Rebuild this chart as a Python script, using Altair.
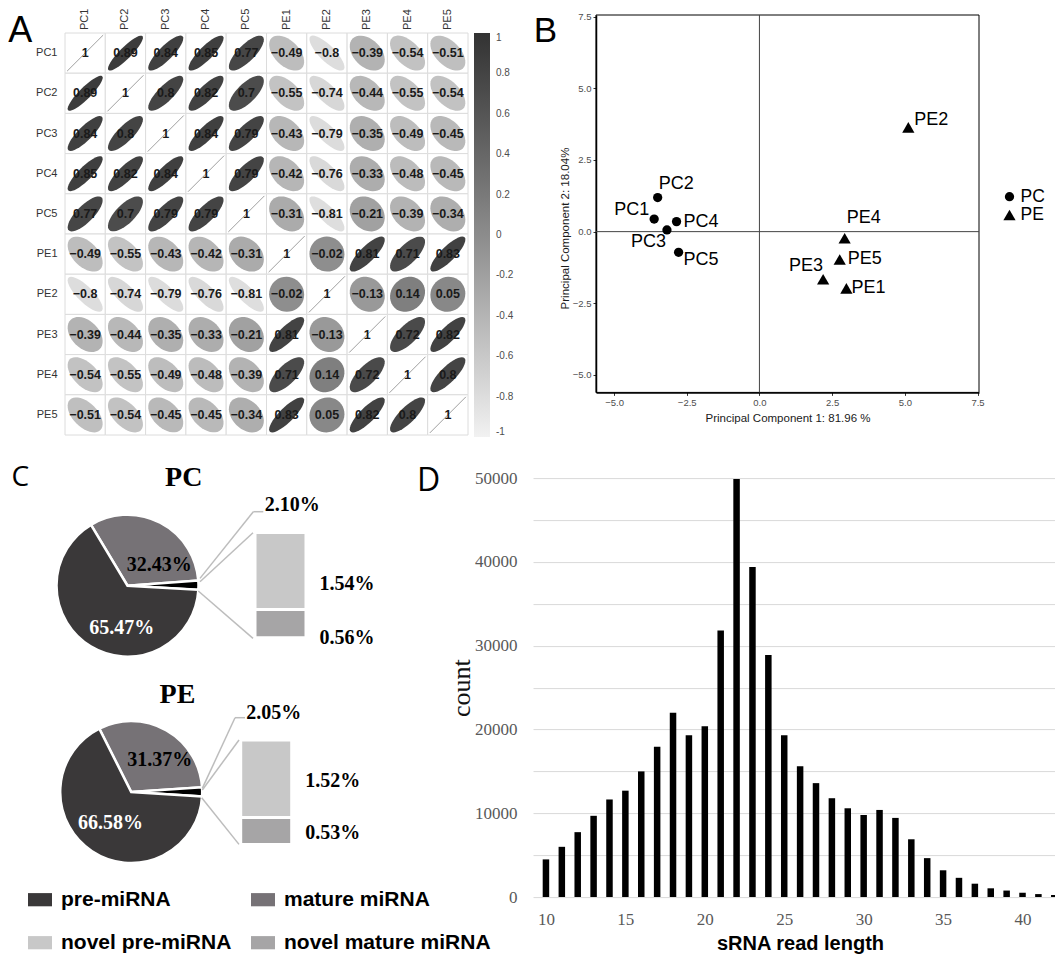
import math
import pandas as pd
import altair as alt

# ---------------- data ----------------
samples = ['PC1', 'PC2', 'PC3', 'PC4', 'PC5', 'PE1', 'PE2', 'PE3', 'PE4', 'PE5']
corr = [
    [1, 0.89, 0.84, 0.85, 0.77, -0.49, -0.8, -0.39, -0.54, -0.51],
    [0.89, 1, 0.8, 0.82, 0.7, -0.55, -0.74, -0.44, -0.55, -0.54],
    [0.84, 0.8, 1, 0.84, 0.79, -0.43, -0.79, -0.35, -0.49, -0.45],
    [0.85, 0.82, 0.84, 1, 0.79, -0.42, -0.76, -0.33, -0.48, -0.45],
    [0.77, 0.7, 0.79, 0.79, 1, -0.31, -0.81, -0.21, -0.39, -0.34],
    [-0.49, -0.55, -0.43, -0.42, -0.31, 1, -0.02, 0.81, 0.71, 0.83],
    [-0.8, -0.74, -0.79, -0.76, -0.81, -0.02, 1, -0.13, 0.14, 0.05],
    [-0.39, -0.44, -0.35, -0.33, -0.21, 0.81, -0.13, 1, 0.72, 0.82],
    [-0.54, -0.55, -0.49, -0.48, -0.39, 0.71, 0.14, 0.72, 1, 0.8],
    [-0.51, -0.54, -0.45, -0.45, -0.34, 0.83, 0.05, 0.82, 0.8, 1],
]
colorbar_ticks = [-1, -0.8, -0.6, -0.4, -0.2, 0, 0.2, 0.4, 0.6, 0.8, 1]

pca_groups = ['PC', 'PC', 'PC', 'PC', 'PC', 'PE', 'PE', 'PE', 'PE', 'PE']
pc1_scores = [-3.62, -3.50, -3.18, -2.85, -2.78, 2.99, 5.12, 2.19, 2.93, 2.76]
pc2_scores = [0.44, 1.19, 0.06, 0.35, -0.72, -1.98, 3.64, -1.66, -0.23, -0.97]
pca_ticks = [-5.0, -2.5, 0.0, 2.5, 5.0, 7.5]

pie_categories = ['mature miRNA', 'novel', 'pre-miRNA']
pc_pie = [32.43, 2.10, 65.47]
pe_pie = [31.37, 2.05, 66.58]
novel_categories = ['novel mature miRNA', 'novel pre-miRNA']
pc_novel = [0.56, 1.54]
pe_novel = [0.53, 1.52]
legend_categories = ['pre-miRNA', 'mature miRNA', 'novel pre-miRNA', 'novel mature miRNA']

read_lengths = list(range(10, 43))
read_counts = [4500, 6000, 7750, 9700, 11650, 12700, 15000, 17950, 22000, 19300,
               20400, 31800, 49900, 39400, 28900, 19300, 15600, 13600, 11800, 10600,
               9800, 10400, 9450, 6900, 4650, 3200, 2300, 1600, 1050, 780,
               520, 360, 250]
length_ticks = [10, 15, 20, 25, 30, 35, 40]
count_ticks = list(range(0, 50001, 5000))

one = pd.DataFrame({'a': [0]})
NOVIEW = alt.ViewBackground(stroke='transparent', strokeWidth=0)


def letter(t, x, y, size, font='Open Sans'):
    return alt.Chart(pd.DataFrame({'t': [t]})).mark_text(
        font=font, fontSize=size, align='left', baseline='alphabetic', color='black'
    ).encode(x=alt.value(x), y=alt.value(y), text='t:N')


def ellipse_path(r, n=40):
    d = math.acos(max(-1.0, min(1.0, r)))
    pts = []
    for k in range(n):
        t = 2 * math.pi * k / n
        pts.append(f"{math.cos(t + d / 2):.3f},{-math.cos(t - d / 2):.3f}")
    return "M" + "L".join(pts) + "Z"


def fmt(r):
    s = f"{r:.2f}".rstrip('0').rstrip('.')
    return s.replace('-', '\u2212')


# ---------------- panel A ----------------
rowsA = []
for i, rn in enumerate(samples):
    for j, cn in enumerate(samples):
        r = corr[i][j]
        rowsA.append(dict(row=rn, col=cn, r=r, label=fmt(r), path=ellipse_path(r), diag=(i == j)))
dfA = pd.DataFrame(rowsA)

xA = alt.X('col:N', sort=samples, title=None, axis=None,
           scale=alt.Scale(type='band', paddingInner=0, paddingOuter=0))
yA = alt.Y('row:N', sort=samples, title=None,
           scale=alt.Scale(type='band', paddingInner=0, paddingOuter=0.224, align=1),
           axis=alt.Axis(ticks=False, domain=False, grid=False, labelPadding=8,
                         labelFontSize=11, labelColor='#333333', labelFont='Liberation Sans'))
baseA = alt.Chart(dfA).encode(x=xA, y=yA)
cellsA = baseA.mark_rect(fill='white', stroke='#dcdcdc', strokeWidth=1)
ellA = baseA.transform_filter('!datum.diag').mark_point(
    filled=True, opacity=1, size=1225, strokeWidth=0
).encode(
    shape=alt.Shape('path:N', scale=None),
    color=alt.Color('r:Q', scale=alt.Scale(domain=[-1, 1], range=['#f2f2f2', '#333333']),
                    legend=alt.Legend(title=None, orient='none', legendX=409, legendY=18,
                                      direction='vertical', gradientLength=404, gradientThickness=16,
                                      values=colorbar_ticks, labelFontSize=10, labelColor='#4d4d4d',
                                      labelOffset=6, gradientStrokeWidth=0,
                                      labelExpr="toString(round(datum.value*10)/10)"))
)
diagA = baseA.transform_filter('datum.diag').mark_point(
    filled=False, shape='M-1,1L1,-1', size=1300, color='#888888', strokeWidth=0.8, opacity=1
)
numA = baseA.mark_text(fontSize=12.5, fontWeight='bold', color='#1a1a1a',
                       font='Liberation Sans').encode(text='label:N')
colLabA = alt.Chart(pd.DataFrame({'col': samples})).mark_text(
    angle=270, align='left', baseline='middle', fontSize=11, color='#333333', font='Liberation Sans'
).encode(x=xA, y=alt.value(15), text='col:N')
A = alt.layer(cellsA, ellA, diagA, numA, colLabA,
              letter('A', -56.7, 26.7, 36, 'Liberation Sans')).properties(
    width=403, height=420, view=NOVIEW)

# ---------------- panel B ----------------
XL, XR, YB, YT = -5.62, 7.55, -5.61, 7.56
dfB = pd.DataFrame(dict(sample=samples, group=pca_groups, pc1=pc1_scores, pc2=pc2_scores))
xB = alt.X('pc1:Q', scale=alt.Scale(domain=[XL, XR], range=[63, 446], nice=False, zero=False),
           axis=alt.Axis(values=pca_ticks, format='.1f', title='Principal Component 1:  81.96 %',
                         grid=False, tickSize=3, tickColor='#333333', domainColor='#000000',
                         domainWidth=1.5, labelFontSize=9.5, labelColor='#4d4d4d', labelPadding=2,
                         titleFontSize=11.5, titleFontWeight='normal', titleColor='#1a1a1a',
                         titleX=254.5, titleY=26, titleBaseline='middle'))
yB = alt.Y('pc2:Q', scale=alt.Scale(domain=[YB, YT], nice=False, zero=False),
           axis=alt.Axis(values=pca_ticks, format='.1f', title='Principal Component 2:  18.04%',
                         grid=False, tickSize=3, tickColor='#333333', domainColor='#000000',
                         domainWidth=1.5, labelFontSize=9.5, labelColor='#4d4d4d', labelPadding=2,
                         titleFontSize=11.5, titleFontWeight='normal', titleColor='#1a1a1a',
                         titleX=-26, titleY=213, titleBaseline='bottom', offset=-63))
shapeB = alt.Scale(domain=['PC', 'PE'], range=['circle', 'triangle-up'])
sizeB = alt.Scale(domain=['PC', 'PE'], range=[86, 150])
frameB = alt.Chart(one).mark_rect(fillOpacity=0, stroke='#000000', strokeWidth=1).encode(
    x=alt.datum(XL), x2=alt.datum(XR), y=alt.datum(YB), y2=alt.datum(YT))
vline = alt.Chart(one).mark_rule(color='#444444', strokeWidth=1).encode(
    x=alt.datum(0), y=alt.datum(YB), y2=alt.datum(YT))
hline = alt.Chart(one).mark_rule(color='#444444', strokeWidth=1).encode(
    y=alt.datum(0), x=alt.datum(XL), x2=alt.datum(XR))
ptsB = alt.Chart(dfB).mark_point(filled=True, opacity=1, color='black').encode(
    x=xB, y=yB,
    shape=alt.Shape('group:N', scale=shapeB, legend=None),
    size=alt.Size('group:N', scale=sizeB, legend=None),
)
label_style = {
    'PC1': ('right', -5, -9), 'PC2': ('left', 1, -14), 'PC3': ('right', -1, 12),
    'PC4': ('left', 7, 0), 'PC5': ('left', 5, 8), 'PE1': ('left', 5, 0),
    'PE2': ('left', 6, -7), 'PE3': ('right', 0, -13), 'PE4': ('left', 2, -20),
    'PE5': ('left', 8, 0),
}
labelsB = []
for s in samples:
    al, dx, dy = label_style[s]
    labelsB.append(
        alt.Chart(dfB).transform_filter(alt.datum.sample == s).mark_text(
            align=al, dx=dx, dy=dy, baseline='middle', fontSize=18, font='Liberation Sans', color='black'
        ).encode(x=xB, y=yB, text='sample:N')
    )
# key of panel B (symbols + group names)
legB = []
for g, ly in zip(['PC', 'PE'], [181.7, 200.0]):
    dg = pd.DataFrame({'group': [g]})
    legB.append(alt.Chart(dg).mark_point(filled=True, opacity=1, color='black').encode(
        x=alt.value(476.5), y=alt.value(ly),
        shape=alt.Shape('group:N', scale=shapeB, legend=None),
        size=alt.Size('group:N', scale=alt.Scale(domain=['PC', 'PE'], range=[81, 110]), legend=None)))
    legB.append(alt.Chart(dg).mark_text(align='left', baseline='middle', fontSize=17.5,
                                        font='Liberation Sans', color='black').encode(
        x=alt.value(487.5), y=alt.value(ly), text='group:N'))
B = alt.layer(frameB, vline, hline, ptsB, *labelsB, *legB,
              letter('B', 0.7, 26.7, 35, 'Liberation Sans')).properties(
    width=446, height=377.4, view=NOVIEW)

# ---------------- panel C ----------------
colorC = alt.Color('cat:N',
                   scale=alt.Scale(domain=legend_categories + ['novel'],
                                   range=['#3a3839', '#767276', '#c8c8c8', '#a6a5a6', '#000000']),
                   legend=alt.Legend(title=None, orient='none', legendX=-37, legendY=409.6, columns=2,
                                     values=['pre-miRNA', 'novel pre-miRNA', 'mature miRNA', 'novel mature miRNA'],
                                     symbolType='M-1,-0.55L1,-0.55L1,0.55L-1,0.55Z',
                                     symbolSize=576, symbolStrokeWidth=0, symbolOpacity=1,
                                     labelFontSize=21, labelFontWeight='bold', labelColor='#000000',
                                     labelFont='Liberation Sans', labelOffset=9, columnPadding=19,
                                     rowPadding=21, labelLimit=0))


def pie(vals, cx, cy, start):
    df = pd.DataFrame(dict(cat=pie_categories, pct=vals, ord=[0, 1, 2]))
    return alt.Chart(df).mark_arc(outerRadius=71, stroke='white', strokeWidth=2.5).encode(
        theta=alt.Theta('pct:Q', stack=True, scale=alt.Scale(range=[start, start + 2 * math.pi])),
        color=colorC, order=alt.Order('ord:Q'), x=alt.value(cx), y=alt.value(cy))


def nbar(vals, x0, x1, ybot, ytop):
    ends, acc = [], 0.0
    for v in vals:
        acc += v
        ends.append(acc)
    starts = [e - v for e, v in zip(ends, vals)]
    df = pd.DataFrame(dict(cat=novel_categories, y0=starts, y1=ends))
    ysc = alt.Scale(domain=[0, ends[-1]], range=[ybot, ytop], nice=False, zero=True)
    return alt.Chart(df).mark_rect(stroke='white', strokeWidth=3).encode(
        x=alt.value(x0), x2=alt.value(x1),
        y=alt.Y('y0:Q', axis=None, scale=ysc), y2='y1:Q',
        color=colorC)


def seg(x, y, x2, y2):
    return alt.Chart(one).mark_rule(color='#bdbdbd', strokeWidth=1.5).encode(
        x=alt.value(x), y=alt.value(y), x2=alt.value(x2), y2=alt.value(y2))


def lab(t, x, y, size=20, color='black', font='Liberation Serif'):
    return alt.Chart(pd.DataFrame({'t': [t]})).mark_text(
        fontSize=size, fontWeight='bold', font=font, color=color, align='center', baseline='middle'
    ).encode(x=alt.value(x), y=alt.value(y), text='t:N')


pct = lambda v: f"{v:.2f}%"
layersC = [
    pie(pc_pie, 62.5, 107.6, -0.5404),
    pie(pe_pie, 66.2, 313.9, -0.466),
    nbar(pc_novel, 190, 241, 159.6, 54.3),
    nbar(pe_novel, 175.7, 226.7, 366.3, 261.9),
    seg(135, 100.3, 188.3, 33.6), seg(188.3, 33.6, 198.3, 33.6),
    seg(135, 103.6, 188, 54.6), seg(133.3, 112.9, 188, 160.3),
    seg(137.3, 310.3, 170, 239.6), seg(170, 239.6, 180, 239.6),
    seg(137.3, 311.9, 174, 261.9), seg(136.7, 319.6, 174, 366.3),
    lab('PC', 118.7, 0.3, 28), lab('PE', 112.5, 216.9, 28),
    lab(pct(pc_pie[0]), 94.2, 86.9), lab(pct(pc_pie[2]), 56.7, 150.3, color='white'),
    lab(pct(pe_pie[0]), 94.7, 281.9), lab(pct(pe_pie[2]), 45.5, 344.6, color='white'),
    lab(pct(pc_pie[1]), 227.2, 26.9), lab(pct(pc_novel[1]), 282, 106.1), lab(pct(pc_novel[0]), 282, 159.4),
    lab(pct(pe_pie[1]), 208.7, 235.3), lab(pct(pe_novel[1]), 267.7, 302.8), lab(pct(pe_novel[0]), 267.7, 354.4),
    letter('C', -53.5, 8.1, 28),
]
C = alt.layer(*layersC).resolve_scale(theta='independent', y='independent').properties(
    width=340, height=419, view=NOVIEW)

# ---------------- panel D ----------------
dfD = pd.DataFrame(dict(length=read_lengths, count=read_counts))
xD = alt.X('length:Q', scale=alt.Scale(domain=[9.5, 41.73], nice=False, zero=False),
           axis=alt.Axis(values=length_ticks, grid=False, ticks=False, domain=False,
                         labelFont='Liberation Serif', labelFontSize=17, labelColor='#595959',
                         labelPadding=14, title='sRNA read length', titleFont='Liberation Sans',
                         titleFontSize=20, titleFontWeight='bold', titleColor='#000000',
                         titleX=267, titlePadding=6))
yD = alt.Y('count:Q', scale=alt.Scale(domain=[0, 50000], nice=False),
           axis=alt.Axis(values=count_ticks, format='d',
                         labelExpr="datum.value % 10000 == 0 ? datum.label : ''",
                         grid=True, gridColor='#d9d9d9', ticks=False, domain=False,
                         labelFont='Liberation Serif', labelFontSize=17, labelColor='#595959',
                         labelPadding=16, title='count', titleFont='Liberation Serif',
                         titleFontSize=26, titleFontWeight='normal', titleColor='#111111',
                         titlePadding=0))
barsD = alt.Chart(dfD).mark_bar(width=6.5, color='black', clip=True).encode(x=xD, y=yD)
D = alt.layer(barsD, letter('D', -116, 13.1, 32)).properties(width=522, height=419, view=NOVIEW)

chart = alt.concat(
    A, B, C, D, columns=2,
    spacing={'row': 43.1, 'column': 65}, bounds='flush', align='each'
).resolve_scale(
    color='independent', shape='independent', size='independent'
).resolve_legend(
    color='independent', shape='independent', size='independent'
).properties(
    padding=0, background='white'
).configure_view(stroke='transparent', strokeWidth=0).configure(font='Liberation Sans')

chart.save("out.html", embed_options={"renderer": "svg", "actions": False})
